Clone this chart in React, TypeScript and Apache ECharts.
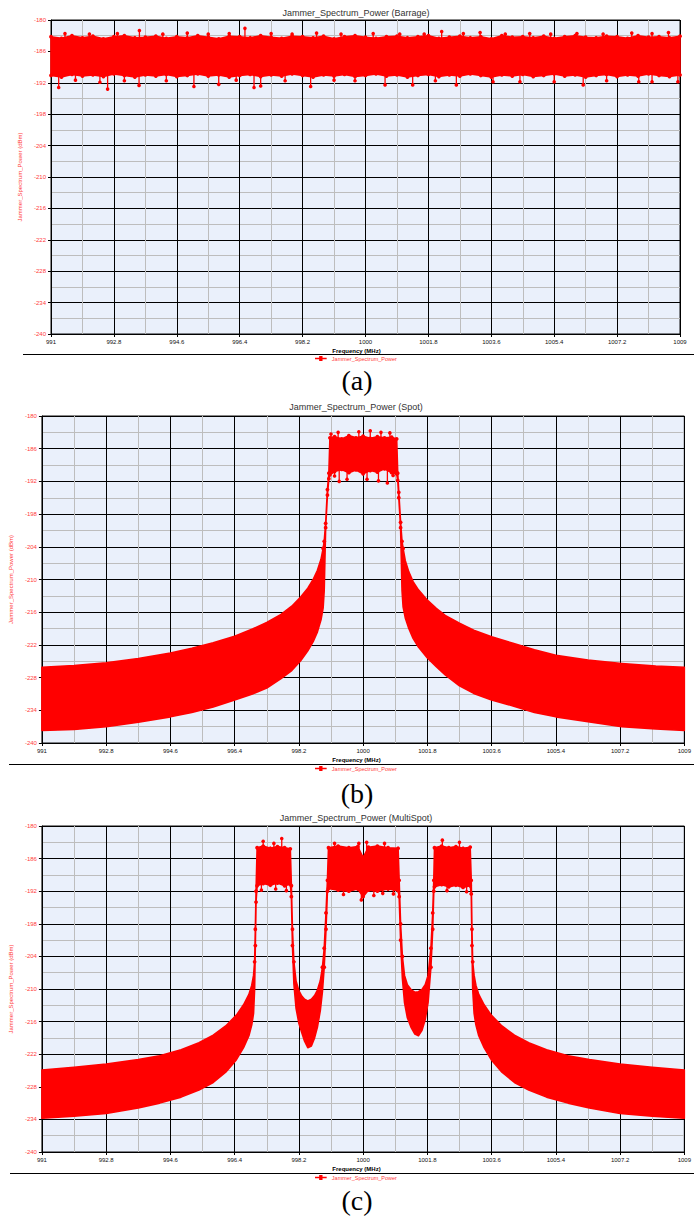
import React, { useEffect, useRef } from "react";
import * as echarts from "echarts";

const SERIES_NAME = "Jammer_Spectrum_Power";
const TITLES = [
  "Jammer_Spectrum_Power (Barrage)",
  "Jammer_Spectrum_Power (Spot)",
  "Jammer_Spectrum_Power (MultiSpot)",
];
const PANEL_LABELS = ["(a)", "(b)", "(c)"];
const X_AXIS_NAME = "Frequency (MHz)";
const Y_AXIS_NAME = "Jammer_Spectrum_Power (dBm)";
const X_MIN = 991;
const X_MAX = 1009;
const X_STEP = 1.8;
const Y_MIN = -240;
const Y_MAX = -180;
const Y_STEP = 6;
const SPIKE_ANCHOR = -187;
const MARKER_LEVEL = -206;

// Band envelopes: [frequency MHz, upper dBm, lower dBm]
const barrageBand = [
  [991.0, -183.2, -190.6], [991.3, -183.5, -190.9], [991.6, -183.0, -190.4], [991.9, -183.4, -190.7],
  [992.2, -183.1, -190.5], [992.5, -183.6, -190.8], [992.8, -183.2, -190.3], [993.1, -183.0, -190.6],
  [993.4, -183.4, -190.9], [993.7, -183.3, -190.5], [994.0, -183.1, -190.7], [994.3, -183.5, -190.4],
  [994.6, -183.2, -190.8], [994.9, -183.4, -190.6], [995.2, -183.0, -190.3], [995.5, -183.3, -190.7],
  [995.8, -183.6, -190.5], [996.1, -183.1, -190.9], [996.4, -183.2, -190.6], [996.7, -183.4, -190.4],
  [997.0, -183.0, -190.8], [997.3, -183.3, -190.5], [997.6, -183.5, -190.7], [997.9, -183.1, -190.3],
  [998.2, -183.2, -190.6], [998.5, -183.4, -190.9], [998.8, -183.1, -190.5], [999.1, -183.6, -190.7],
  [999.4, -183.2, -190.4], [999.7, -183.0, -190.8], [1000.0, -183.3, -190.6], [1000.3, -183.5, -190.3],
  [1000.6, -183.2, -190.7], [1000.9, -183.1, -190.5], [1001.2, -183.4, -190.9], [1001.5, -183.2, -190.6],
  [1001.8, -183.0, -190.4], [1002.1, -183.5, -190.8], [1002.4, -183.3, -190.5], [1002.7, -183.1, -190.7],
  [1003.0, -183.4, -190.3], [1003.3, -183.2, -190.6], [1003.6, -183.6, -190.9], [1003.9, -183.0, -190.5],
  [1004.2, -183.3, -190.7], [1004.5, -183.2, -190.4], [1004.8, -183.4, -190.8], [1005.1, -183.1, -190.6],
  [1005.4, -183.5, -190.3], [1005.7, -183.2, -190.7], [1006.0, -183.0, -190.5], [1006.3, -183.3, -190.9],
  [1006.6, -183.4, -190.6], [1006.9, -183.1, -190.4], [1007.2, -183.2, -190.8], [1007.5, -183.5, -190.5],
  [1007.8, -183.0, -190.7], [1008.1, -183.3, -190.3], [1008.4, -183.2, -190.6], [1008.7, -183.4, -190.8],
  [1009.0, -183.1, -190.5],
];
// Isolated spikes: [frequency MHz, dBm]
const barrageSpikes = [
  [991.4, -182.6], [992.1, -182.7], [992.9, -182.6], [993.53, -182.0], [994.2, -182.7],
  [994.9, -182.5], [995.5, -182.7], [996.1, -182.6], [996.55, -181.6], [997.3, -182.6],
  [997.9, -182.7], [998.6, -182.5], [999.3, -182.7], [1000.22, -182.6], [1000.98, -182.7],
  [1001.68, -182.7], [1002.18, -182.2], [1002.8, -182.6], [1003.28, -182.4], [1004.0, -182.7],
  [1004.7, -182.6], [1005.3, -182.7], [1006.05, -182.6], [1006.8, -182.7], [1007.62, -182.5],
  [1008.2, -182.6], [1008.67, -182.4],
  [991.22, -192.9], [991.7, -191.5], [992.4, -191.9], [992.62, -193.2], [993.1, -191.6],
  [993.52, -192.5], [994.3, -191.6], [995.09, -192.7], [995.8, -192.3], [996.3, -191.5],
  [996.81, -192.9], [997.0, -192.6], [997.7, -191.6], [998.43, -192.7], [999.1, -191.5],
  [999.7, -191.6], [1000.56, -192.4], [1001.35, -192.4], [1002.0, -191.6], [1002.6, -192.4],
  [1003.65, -191.8], [1004.42, -191.8], [1005.4, -191.8], [1006.23, -192.4], [1006.9, -191.6],
  [1007.82, -191.8], [1008.2, -191.8], [1008.94, -191.8],
];

const spotBand = [
  [991.0, -226.1, -237.7], [991.9, -225.8, -237.5], [992.8, -225.3, -237.0],
  [993.7, -224.5, -236.2], [994.6, -223.5, -235.2], [995.2, -222.6, -234.4],
  [995.8, -221.6, -233.4], [996.4, -220.4, -232.1], [996.9, -219.1, -231.0],
  [997.3, -217.9, -229.9], [997.7, -216.4, -228.2], [998.0, -214.9, -226.7],
  [998.25, -213.2, -224.9], [998.45, -211.6, -223.1], [998.6, -210.0, -221.4],
  [998.72, -208.3, -219.6], [998.82, -206.3, -217.4], [998.88, -204.3, -215.2],
  [998.91, -203.0, -212.0], [998.95, -199.7, -200.5], [999.0, -193.5, -194.5],
  [999.04, -190.5, -191.5], [999.07, -184.0, -190.8], [999.2, -183.8, -190.2],
  [999.4, -184.2, -189.8], [999.6, -183.6, -190.4], [999.8, -184.0, -189.9],
  [1000.0, -183.7, -190.6], [1000.2, -184.1, -190.0], [1000.4, -183.8, -190.3],
  [1000.6, -184.0, -189.7], [1000.8, -183.9, -190.4], [1000.94, -184.2, -190.6],
  [1000.97, -190.5, -191.8], [1001.0, -194.0, -195.0], [1001.05, -199.5, -200.5],
  [1001.09, -203.0, -212.0], [1001.12, -204.3, -215.0], [1001.18, -206.5, -217.0],
  [1001.28, -208.6, -219.0], [1001.4, -210.4, -220.8], [1001.55, -211.9, -222.4],
  [1001.8, -213.8, -224.4], [1002.05, -215.3, -226.0], [1002.3, -216.6, -227.5],
  [1002.7, -218.0, -229.5], [1003.1, -219.3, -230.9], [1003.6, -220.5, -232.1],
  [1004.2, -221.7, -233.2], [1004.8, -222.9, -234.4], [1005.4, -223.9, -235.2],
  [1006.3, -224.8, -236.1], [1007.25, -225.4, -237.0], [1008.2, -225.9, -237.4],
  [1009.0, -226.1, -237.7],
];
const spotSpikes = [
  [999.1, -183.3], [999.3, -183.0], [999.88, -182.9], [1000.2, -182.7], [1000.5, -183.0],
  [1000.75, -183.1], [999.2, -191.0], [999.33, -192.0], [999.55, -191.6], [1000.11, -191.6],
  [1000.43, -191.9], [1000.68, -192.3], [1000.84, -190.9],
];

const multiSpotBand = [
  [991.0, -224.9, -233.8], [991.9, -224.4, -233.4], [992.8, -223.8, -232.9],
  [993.7, -223.0, -231.9], [994.3, -222.3, -231.0], [994.9, -221.2, -229.9],
  [995.4, -219.9, -228.6], [995.8, -218.5, -227.2], [996.15, -216.8, -225.3],
  [996.45, -214.8, -223.0], [996.65, -212.9, -220.8], [996.8, -211.0, -218.6],
  [996.88, -209.3, -216.6], [996.93, -207.5, -214.5], [996.96, -205.0, -210.0],
  [996.98, -199.0, -202.0], [997.0, -192.0, -194.0], [997.03, -184.0, -191.0],
  [997.2, -183.7, -190.6], [997.4, -184.1, -190.9], [997.6, -183.8, -190.5],
  [997.8, -184.0, -191.0], [997.96, -184.2, -190.7], [997.99, -191.0, -193.0],
  [998.02, -199.0, -202.0], [998.06, -205.0, -209.0], [998.12, -208.5, -213.5],
  [998.2, -210.3, -216.3], [998.28, -211.3, -218.0], [998.36, -211.9, -219.6],
  [998.45, -212.2, -220.8], [998.55, -211.9, -220.5], [998.64, -211.2, -219.0],
  [998.72, -210.2, -217.0], [998.8, -208.5, -214.0], [998.86, -206.0, -210.5],
  [998.91, -202.5, -206.0], [998.96, -196.0, -199.0], [999.0, -190.0, -192.0],
  [999.03, -184.0, -191.5], [999.3, -183.7, -191.8], [999.6, -184.0, -192.0],
  [999.85, -183.8, -191.6], [1000.0, -185.8, -193.0], [1000.15, -183.9, -191.8],
  [1000.4, -183.7, -192.0], [1000.7, -184.0, -191.6], [1000.98, -184.1, -191.9],
  [1001.01, -190.0, -193.0], [1001.05, -198.0, -201.0], [1001.1, -204.0, -208.0],
  [1001.16, -207.5, -212.5], [1001.24, -209.2, -215.3], [1001.34, -210.1, -217.0],
  [1001.45, -210.6, -218.3], [1001.55, -210.5, -218.6], [1001.65, -210.1, -217.6],
  [1001.74, -209.2, -215.6], [1001.82, -207.5, -212.5], [1001.9, -202.5, -206.0],
  [1001.95, -196.0, -199.0], [1001.98, -190.0, -192.0], [1002.0, -184.0, -191.2],
  [1002.2, -183.7, -190.8], [1002.4, -184.0, -191.2], [1002.6, -183.8, -190.9],
  [1002.8, -184.1, -191.3], [1003.0, -183.9, -191.0], [1003.03, -190.0, -192.5],
  [1003.05, -199.0, -202.0], [1003.07, -205.0, -210.0], [1003.11, -207.5, -214.5],
  [1003.16, -209.3, -216.6], [1003.24, -211.0, -218.6], [1003.39, -212.9, -220.8],
  [1003.59, -214.8, -223.0], [1003.89, -216.8, -225.3], [1004.24, -218.5, -227.2],
  [1004.64, -219.9, -228.6], [1005.14, -221.2, -229.9], [1005.74, -222.3, -231.0],
  [1006.34, -223.0, -231.9], [1007.2, -223.8, -232.9], [1008.1, -224.4, -233.4],
  [1009.0, -224.9, -233.8],
];
const multiSpotSpikes = [
  [997.2, -182.8], [997.5, -183.2], [997.72, -182.3], [997.15, -191.8], [997.55, -191.6],
  [997.85, -191.9], [999.2, -183.2], [999.88, -183.2], [1000.1, -183.0], [1000.6, -183.2],
  [999.45, -192.6], [999.95, -193.6], [1000.3, -192.8], [1000.55, -192.4], [1000.85, -192.5],
  [1002.22, -182.6], [1002.7, -183.0], [1002.35, -191.9], [1002.9, -192.1],
];

const BANDS = [barrageBand, spotBand, multiSpotBand];
const SPIKES = [barrageSpikes, spotSpikes, multiSpotSpikes];

const RED = "#ff0000";
const RED_TEXT = "#ff3b3b";
const FONT = "Liberation Sans, Arial, sans-serif";

// layout per panel (pixels)
const GRIDS = [
  { left: 51, top: 20, width: 629, height: 314 },
  { left: 38.5, top: 416, width: 655.5, height: 327 },
  { left: 39.5, top: 826, width: 653.5, height: 326 },
];
const TITLE_TOPS = [8, 402.5, 813.5];
const Y_NAME_GAPS = [18, 20, 20.5];
const FREQ_LABEL_Y = [351, 760, 1169];
const RULE_LINES = [
  { x1: 23, y: 354.5 },
  { x1: 9, y: 764.5 },
  { x1: 10, y: 1173.5 },
];
const LEGEND_TOPS = [355.5, 765.5, 1174.5];
const PANEL_LABEL_Y = [380, 793, 1200];

const toX = (f: number) => Math.round((f - X_MIN) * 10000) / 10000;
const fmtFreq = (v: number) => String(Math.round((v + X_MIN) * 10) / 10);

function buildOption() {
  const grid: any[] = [];
  const xAxis: any[] = [];
  const yAxis: any[] = [];
  const series: any[] = [];
  const title: any[] = [];
  const legend: any[] = [];
  const graphic: any[] = [];

  for (let i = 0; i < 3; i++) {
    const g = GRIDS[i];
    grid.push({
      left: g.left,
      top: g.top,
      width: g.width,
      height: g.height,
      show: true,
      backgroundColor: "#eaf0fb",
      borderColor: "#111",
      borderWidth: 1,
    });
    xAxis.push({
      type: "value",
      gridIndex: i,
      min: 0,
      max: X_MAX - X_MIN,
      interval: X_STEP,
      axisLine: { show: true, lineStyle: { color: "#000", width: 1 } },
      axisTick: { show: true, length: 3, lineStyle: { color: "#000" } },
      axisLabel: {
        fontSize: 6,
        color: "#111",
        margin: 5,
        fontFamily: FONT,
        formatter: (v: number) => fmtFreq(v),
        showMinLabel: true,
        showMaxLabel: true,
      },
      splitLine: { show: true, lineStyle: { color: "#000", width: 1 } },
      minorTick: { show: false, splitNumber: 2 },
      minorSplitLine: { show: true, lineStyle: { color: "#bdbdbd", width: 1 } },
    });
    yAxis.push({
      type: "value",
      gridIndex: i,
      min: Y_MIN,
      max: Y_MAX,
      interval: Y_STEP,
      name: Y_AXIS_NAME,
      nameLocation: "middle",
      nameGap: Y_NAME_GAPS[i],
      nameTextStyle: { fontSize: 6, color: RED_TEXT, fontFamily: FONT },
      axisLine: { show: true, lineStyle: { color: "#000", width: 1 } },
      axisTick: { show: true, length: 3, lineStyle: { color: "#000" } },
      axisLabel: { fontSize: 6, color: RED_TEXT, margin: 5, fontFamily: FONT },
      splitLine: { show: true, lineStyle: { color: "#000", width: 1 } },
      minorTick: { show: false, splitNumber: 2 },
      minorSplitLine: { show: true, lineStyle: { color: "#bdbdbd", width: 1 } },
    });

    const band = BANDS[i];
    series.push({
      type: "custom",
      name: SERIES_NAME,
      coordinateSystem: "cartesian2d",
      xAxisIndex: i,
      yAxisIndex: i,
      color: RED,
      itemStyle: { color: RED },
      silent: true,
      data: band.map(([f, u, l]) => [toX(f), u, l]),
      encode: { x: 0, y: [1, 2] },
      renderItem: (params: any, api: any) => {
        if (params.dataIndex !== 0) return null;
        const top = band.map(([f, u]) => api.coord([toX(f), u]));
        const bottom = band.map(([f, , l]) => api.coord([toX(f), l])).reverse();
        const children: any[] = [
          {
            type: "polygon",
            shape: { points: top.concat(bottom) },
            style: { fill: RED, stroke: RED, lineWidth: 1.6, lineJoin: "round" },
          },
        ];
        band.forEach(([f, u, l]) => {
          if (u >= MARKER_LEVEL) {
            const p = api.coord([toX(f), u]);
            children.push({ type: "circle", shape: { cx: p[0], cy: p[1], r: 1.9 }, style: { fill: RED } });
          }
          if (l >= MARKER_LEVEL) {
            const p = api.coord([toX(f), l]);
            children.push({ type: "circle", shape: { cx: p[0], cy: p[1], r: 1.9 }, style: { fill: RED } });
          }
        });
        return { type: "group", children };
      },
    });
    series.push({
      type: "custom",
      name: SERIES_NAME,
      coordinateSystem: "cartesian2d",
      xAxisIndex: i,
      yAxisIndex: i,
      color: RED,
      itemStyle: { color: RED },
      silent: true,
      data: SPIKES[i].map(([f, v]) => [toX(f), v]),
      encode: { x: 0, y: 1 },
      renderItem: (params: any, api: any) => {
        const x = api.value(0);
        const v = api.value(1);
        const tip = api.coord([x, v]);
        const base = api.coord([x, SPIKE_ANCHOR]);
        return {
          type: "group",
          children: [
            {
              type: "line",
              shape: { x1: base[0], y1: base[1], x2: tip[0], y2: tip[1] },
              style: { stroke: RED, lineWidth: 1.3 },
            },
            {
              type: "circle",
              shape: { cx: tip[0], cy: tip[1], r: 1.8 },
              style: { fill: RED },
            },
          ],
        };
      },
    });

    title.push({
      text: TITLES[i],
      left: 356,
      top: TITLE_TOPS[i],
      textAlign: "center",
      padding: 0,
      textStyle: { fontSize: 9, fontWeight: "normal", color: "#333", fontFamily: FONT },
    });

    legend.push({
      data: [SERIES_NAME],
      left: 315,
      top: LEGEND_TOPS[i],
      padding: 0,
      itemWidth: 12,
      itemHeight: 5,
      icon: "path://M0,3 L5,3 L5,1 L9,1 L9,3 L14,3 L14,5 L9,5 L9,7 L5,7 L5,5 L0,5 Z",
      selectedMode: false,
      textStyle: { fontSize: 5.5, color: RED_TEXT, fontFamily: FONT },
    });

    graphic.push({
      type: "text",
      x: 356.5,
      y: FREQ_LABEL_Y[i],
      style: {
        text: X_AXIS_NAME,
        fontSize: 6,
        fontWeight: "bold",
        fontFamily: FONT,
        fill: "#000",
        align: "center",
        verticalAlign: "middle",
      },
    });
    graphic.push({
      type: "line",
      shape: { x1: RULE_LINES[i].x1, y1: RULE_LINES[i].y, x2: 694, y2: RULE_LINES[i].y },
      style: { stroke: "#000", lineWidth: 1 },
    });
    graphic.push({
      type: "text",
      x: 357,
      y: PANEL_LABEL_Y[i],
      style: {
        text: PANEL_LABELS[i],
        fontSize: 28,
        fontFamily: "Liberation Serif, Times New Roman, serif",
        fill: "#000",
        align: "center",
        verticalAlign: "middle",
      },
    });
  }

  return {
    animation: false,
    backgroundColor: "#ffffff",
    textStyle: { fontFamily: FONT },
    title,
    legend,
    grid,
    xAxis,
    yAxis,
    series,
    graphic,
  };
}

export default function App() {
  const ref = useRef<HTMLDivElement>(null);
  useEffect(() => {
    if (!ref.current) return;
    const chart = echarts.init(ref.current, undefined, { renderer: "svg" });
    chart.setOption(buildOption() as any);
    return () => chart.dispose();
  }, []);
  return (
    <div
      ref={ref}
      style={{ position: "absolute", left: 0, top: 0, width: 694, height: 1218 }}
    />
  );
}
